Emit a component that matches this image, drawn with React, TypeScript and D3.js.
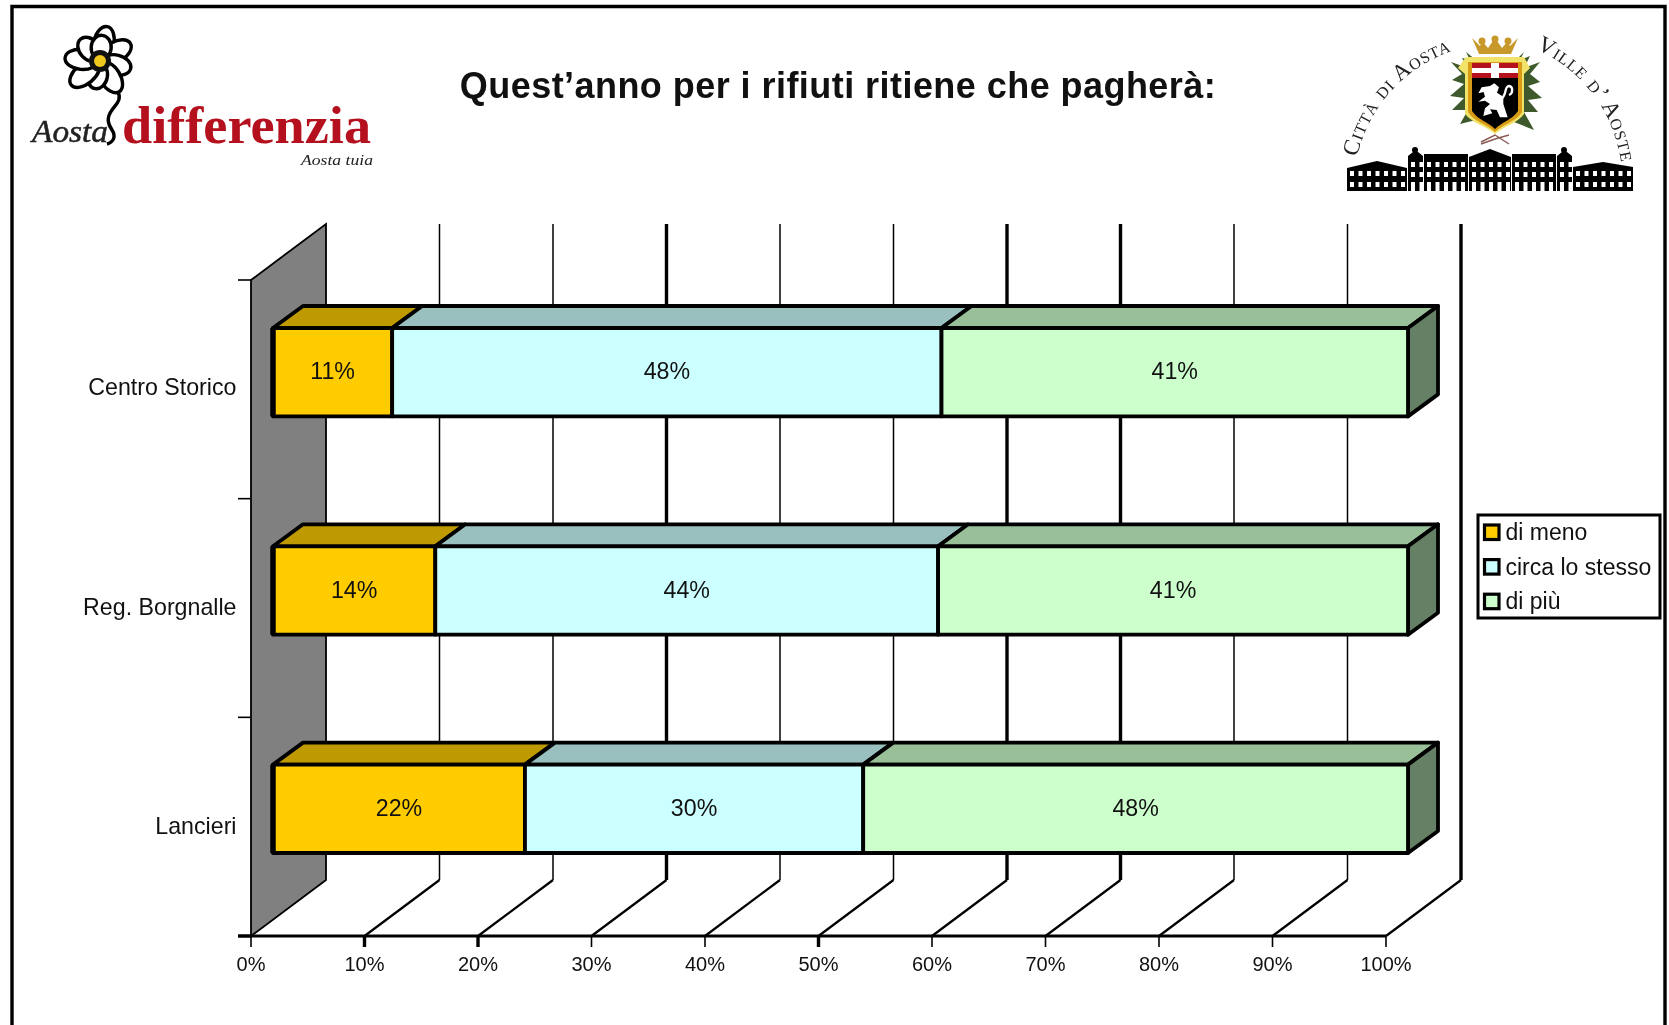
import React from "react";
import * as d3 from "d3";

const W = 1669, H = 1025;
const categories = ["Centro Storico", "Reg. Borgnalle", "Lancieri"];
const seriesNames = ["di meno", "circa lo stesso", "di più"];
const diMeno = [10.5, 14.3, 22.2];
const circaStesso = [48.4, 44.3, 29.8];
const diPiu = [41.1, 41.4, 48.0];
const frontColors = ["#FFCC00", "#CCFFFF", "#CCFFCC"];
const topColors = ["#BF9900", "#99BFBF", "#99BF99"];
const sideColors = ["#806600", "#668080", "#668066"];
const xTicks = [0, 10, 20, 30, 40, 50, 60, 70, 80, 90, 100];
const gridWeights = [1.5, 1.5, 1.5, 3.4, 1.5, 1.5, 3.4, 3.4, 1.5, 1.5, 3.4];
const tickWeights = [1.6, 3.4, 3.4, 1.6, 1.6, 3.4, 1.6, 1.6, 1.6, 1.6, 1.6];
const titleText = "Quest’anno per i rifiuti ritiene che pagherà:";

const FONT = "'Liberation Sans', Arial, sans-serif";
const SERIF = "'Liberation Serif', serif";
const TXT = "#111";

const x0 = 251, x100 = 1386, yFloor = 936, yTopFront = 280;
const wallDx = 75, wallDy = -56, barDx = 22, barDy = -17.5, depthDx = 30, depthDy = -22;

const petalAngles = [-78, -30, 14, 58, 100, 140, 185, 228, 275];
const petalLens = [30, 30, 27, 31, 24, 32, 30, 25, 22];
const buildingBlocks = [
  { x: 1347, w: 60, top: 168, roof: 161, rows: [171, 182] },
  { x: 1408, w: 15, top: 156, roof: 150, rows: [162, 172] },
  { x: 1424, w: 44, top: 154, roof: 154, rows: [162, 172] },
  { x: 1469, w: 42, top: 157, roof: 149, rows: [162, 172] },
  { x: 1512, w: 44, top: 154, roof: 154, rows: [162, 172] },
  { x: 1557, w: 15, top: 156, roof: 150, rows: [162, 172] },
  { x: 1573, w: 60, top: 167, roof: 162, rows: [171, 182] },
];

function Logos() {
  const flowerX = 100, flowerY = 61;
  return (
    <g>
      <defs>
        <path id="arcL" d="M1357,157 A146,146 0 0 1 1470,46" />
        <path id="arcR" d="M1536,49 A146,146 0 0 1 1622,172" />
      </defs>
      <g>
        {petalAngles.map((a, i) => {
          const cx = flowerX + Math.cos(a * Math.PI / 180) * petalLens[i] * 0.62;
          const cy = flowerY + Math.sin(a * Math.PI / 180) * petalLens[i] * 0.62;
          return <ellipse key={i} cx={cx} cy={cy} rx={petalLens[i] * 0.55} ry={10} fill="#fff" stroke="#000" strokeWidth={3.4} transform={`rotate(${a} ${cx} ${cy})`} />;
        })}
        <circle cx={flowerX} cy={flowerY} r={11} fill="#111" />
        <circle cx={flowerX} cy={flowerY} r={6} fill="#EFC81E" />
        <path d="M118,92 C122,100 116,104 112,110 C106,118 108,124 112,130 C116,136 114,142 107,144" fill="none" stroke="#000" strokeWidth={3.4} />
        <text x={32} y={142} fontFamily={SERIF} fontStyle="italic" fontSize={31} fill="#222" stroke="#222" strokeWidth={0.5} textLength={76} lengthAdjust="spacingAndGlyphs">Aosta</text>
        <text x={122} y={143} fontFamily={SERIF} fontWeight="bold" fontSize={53} fill="#B5101E" textLength={249} lengthAdjust="spacingAndGlyphs">differenzia</text>
        <text x={301} y={165} fontFamily={SERIF} fontStyle="italic" fontSize={15} fill="#222" textLength={72} lengthAdjust="spacingAndGlyphs">Aosta tuia</text>

        <text fontFamily={SERIF} fontSize={23} fill="#222" letterSpacing={0.9} style={{ fontVariant: "small-caps" }}>
          <textPath href="#arcL">Città di Aosta</textPath>
        </text>
        <text fontFamily={SERIF} fontSize={23} fill="#222" letterSpacing={0.9} style={{ fontVariant: "small-caps" }}>
          <textPath href="#arcR">Ville d’ Aoste</textPath>
        </text>

        {/* leaves */}
        <path d="M1466,52 L1470,60 L1462,58 L1468,68 L1451,62 L1462,74 L1452,80 L1464,84 L1450,96 L1464,98 L1452,110 L1468,110 L1460,124 L1476,120 L1476,60 Z" fill="#3E5A2C" />
        <path d="M1524,52 L1520,60 L1530,56 L1524,68 L1540,62 L1530,74 L1540,82 L1528,86 L1542,98 L1528,100 L1538,112 L1524,112 L1534,130 L1514,122 L1516,60 Z" fill="#3E5A2C" />
        {/* crown */}
        <path d="M1472,38 L1480,46 L1482,41 L1488,48 L1495,38 L1502,48 L1508,41 L1510,46 L1518,38 L1511,54 L1479,54 Z" fill="#C8992A" />
        <circle cx={1482} cy={41} r={3.5} fill="#C8992A" /><circle cx={1495} cy={39} r={3.5} fill="#C8992A" /><circle cx={1508} cy={41} r={3.5} fill="#C8992A" />
        {/* shield */}
        <path d="M1458,68 L1466,57 L1524,57 L1530,68 L1524,74 L1524,114 C1518,123 1504,126 1495,134 C1486,126 1472,123 1465,114 L1465,74 Z" fill="#F1E36A" />
        <path d="M1468,62 L1522,62 L1522,112 C1516,122 1503,124 1495,132 C1487,124 1474,122 1468,112 Z" fill="#D99B15" />
        <path d="M1472,63 L1518,63 L1518,111 C1512,120 1502,122 1495,129 C1488,122 1478,120 1472,111 Z" fill="#000" />
        <rect x={1472} y={63} width={46} height={15} fill="#B5101E" />
        <rect x={1472} y={68} width={46} height={5} fill="#fff" />
        <rect x={1491} y={63} width={8} height={15} fill="#fff" />
        {/* lion */}
        <g transform="translate(1435,30) scale(0.3333)">
          <path d="M130,215 L150,200 L146,186 L130,190 L140,172 L165,168 L178,160 L192,172 L186,188 L205,200 L205,222 L218,262 L195,262 L185,240 L165,238 L172,250 L145,258 L150,235 L165,222 L150,212 Z" fill="#fff" />
          <path d="M200,205 C215,195 208,172 220,168 C235,168 235,190 222,195" fill="none" stroke="#fff" strokeWidth={7} />
        </g>
        <path d="M1481,142 L1495,135 L1509,144 M1509,135 L1495,139 L1481,144" fill="none" stroke="#8A5A55" strokeWidth={1.4} />

        {/* building */}
        {buildingBlocks.map((b, i) => (
          <g key={i}>
            <path d={`M${b.x},${b.top} L${b.x + b.w / 2},${b.roof} L${b.x + b.w},${b.top} L${b.x + b.w},191 L${b.x},191 Z`} fill="#000" />
            {b.rows.map(wy => d3.range(b.x + 3, b.x + b.w - 3, 8.5).map(wx => (
              <rect key={`${wy}-${wx}`} x={wx} y={wy} width={4} height={5} fill="#fff" />
            )))}
            {b.rows[0] < 170 && d3.range(b.x + 3, b.x + b.w - 3, 8.5).map(wx => (
              <rect key={wx} x={wx} y={182} width={4} height={9} fill="#fff" />
            ))}
          </g>
        ))}
        <circle cx={1415} cy={150} r={3} fill="#000" /><circle cx={1564} cy={150} r={3} fill="#000" />
      </g>
    </g>
  );
}

export default function App() {
  const xScale = d3.scaleLinear().domain([0, 100]).range([x0, x100]);
  const yBand = d3.scaleBand<string>().domain(categories).range([yTopFront, yFloor]).paddingInner(0.595).paddingOuter(0.3);
  const rows = categories.map((c, i) => ({ c, "0": diMeno[i], "1": circaStesso[i], "2": diPiu[i] }));
  const stacked = d3.stack<any>().keys(["0", "1", "2"])(rows);
  const catBoundaries = d3.range(0, categories.length + 1).map(i => yTopFront + (yFloor - yTopFront) * i / categories.length);
  const fmt = (v: number) => `${Math.round(v)}%`;

  return (
    <svg width={W} height={H} viewBox={`0 0 ${W} ${H}`} style={{ position: "absolute", left: 0, top: 0, background: "#fff" }} fontFamily={FONT}>
      <rect width={W} height={H} fill="#fff" />
      <g style={{ filter: "blur(0.5px)" }}>
        <path d={`M12,${H + 5} L12,6.5 L1665,6.5 L1665,${H + 5}`} fill="none" stroke="#000" strokeWidth={3.4} />

        <Logos />
        <text x={838} y={97.5} textAnchor="middle" fontSize={36} letterSpacing={0.45} fontWeight="bold" fill="#111">{titleText}</text>

        {/* wall */}
        <polygon points={`${x0},${yTopFront} ${x0 + wallDx},${yTopFront + wallDy} ${x0 + wallDx},${yFloor + wallDy} ${x0},${yFloor}`} fill="#808080" stroke="#000" strokeWidth={1.8} />
        {catBoundaries.map((y, i) => (
          <line key={i} x1={238} x2={x0} y1={y} y2={y} stroke="#000" strokeWidth={i === 3 ? 3 : 1.6} />
        ))}

        {/* gridlines */}
        {xTicks.map((t, i) => i > 0 && (
          <g key={t}>
            <line x1={xScale(t) + wallDx} x2={xScale(t) + wallDx} y1={yTopFront + wallDy} y2={yFloor + wallDy} stroke="#000" strokeWidth={gridWeights[i]} />
            <line x1={xScale(t) + wallDx} x2={xScale(t)} y1={yFloor + wallDy} y2={yFloor} stroke="#000" strokeWidth={2.2} />
          </g>
        ))}

        {/* axis */}
        <line x1={238} x2={x100} y1={yFloor} y2={yFloor} stroke="#000" strokeWidth={3} />
        {xTicks.map((t, i) => (
          <g key={t}>
            <line x1={xScale(t)} x2={xScale(t)} y1={yFloor} y2={947} stroke="#000" strokeWidth={tickWeights[i]} />
            <text x={xScale(t)} y={971} textAnchor="middle" fontSize={20} fill={TXT}>{t}%</text>
          </g>
        ))}

        {/* bars */}
        {stacked.map((s, si) => s.map((d, ci) => {
          const cat = categories[ci];
          const xa = xScale(d[0]) + barDx, xb = xScale(d[1]) + barDx;
          const yt = yBand(cat)! + barDy, yb = yt + yBand.bandwidth();
          return (
            <g key={`${si}-${ci}`} stroke="#000" strokeWidth={3.8} strokeLinejoin="round">
              <polygon points={`${xa},${yt} ${xa + depthDx},${yt + depthDy} ${xb + depthDx},${yt + depthDy} ${xb},${yt}`} fill={topColors[si]} />
              {si === 2 && <polygon points={`${xb},${yt} ${xb + depthDx},${yt + depthDy} ${xb + depthDx},${yb + depthDy} ${xb},${yb}`} fill={sideColors[si]} />}
              <rect x={xa} y={yt} width={xb - xa} height={yb - yt} fill={frontColors[si]} />
              {si === 0 && <line x1={xa} x2={xa} y1={yt} y2={yb} strokeWidth={5.5} />}
              <text x={(xa + xb) / 2} y={(yt + yb) / 2 + 7} textAnchor="middle" fontSize={23.2} stroke="none" fill={TXT}>{fmt(d[1] - d[0])}</text>
            </g>
          );
        }))}

        {categories.map((c, i) => (
          <text key={c} x={236.5} y={(catBoundaries[i] + catBoundaries[i + 1]) / 2 + 6 + i * 0.7} textAnchor="end" fontSize={23.2} fill={TXT}>{c}</text>
        ))}

        {/* legend */}
        <rect x={1478} y={515} width={182} height={103} fill="#fff" stroke="#000" strokeWidth={3} />
        {seriesNames.map((n, i) => (
          <g key={n}>
            <rect x={1484.5} y={525 + i * 34.6} width={14.5} height={14.5} fill={frontColors[i]} stroke="#000" strokeWidth={3.2} />
            <text x={1505.5} y={540 + i * 34.6} fontSize={23} fill={TXT}>{n}</text>
          </g>
        ))}
      </g>
    </svg>
  );
}
